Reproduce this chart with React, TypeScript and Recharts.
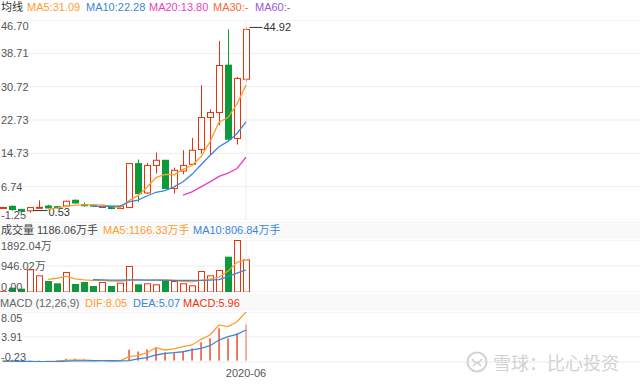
import React from "react";
import {
  ComposedChart,
  Bar,
  Line,
  XAxis,
  YAxis,
  CartesianGrid,
  ReferenceLine,
} from "recharts";

// k-line values (28 sessions)
const openPx = [1.65, 2.04, 1.3, 0.96, 1.7, 2.11, 1.95, 2.11, 3.48, 2.4, 2.3, 1.75, 2.04, 1.5, 1.73, 12.28, 5.23, 11.8, 13.07, 6.28, 10.5, 12.1, 15.64, 23.32, 24.52, 35.87, 18.28, 32.51];
const closePx = [1.75, 1.25, 0.9, 1.73, 1.78, 1.63, 1.8, 3.24, 2.83, 2.2, 2.1, 2.0, 1.5, 2.04, 12.28, 5.08, 11.8, 13.07, 6.28, 10.67, 11.8, 15.47, 23.32, 24.52, 35.79, 18.11, 32.67, 44.43];
const highPx = [1.9, 2.2, 1.4, 1.8, 3.48, 2.4, 2.1, 3.4, 3.7, 2.9, 2.6, 2.1, 2.1, 2.1, 12.3, 13.24, 12.43, 14.92, 13.07, 11.32, 15.47, 18.42, 31.07, 25.3, 41.7, 44.43, 33.06, 44.92];
const lowPx = [1.5, 1.0, 0.7, 0.53, 1.6, 1.3, 1.6, 2.0, 2.7, 2.0, 2.0, 1.7, 1.3, 1.4, 1.7, 3.07, 5.0, 9.88, 6.28, 5.08, 9.7, 12.1, 14.68, 14.27, 21.47, 17.7, 16.84, 31.86];

const ma5 = [null, null, null, null, null, 1.5, 1.6, 2.0, 2.3, 2.4, 2.4, 2.4, 2.0, 1.7, 3.4, 4.6, 6.6, 8.9, 9.7, 9.6, 10.9, 11.8, 13.9, 17.5, 22.2, 23.3, 26.6, 31.09];
const ma10 = [null, null, null, null, null, null, null, null, null, null, 2.0, 2.0, 2.05, 2.1, 3.1, 3.5, 4.5, 5.4, 5.8, 6.7, 7.9, 9.7, 12.0, 14.2, 16.3, 17.6, 19.5, 22.28];
const ma20 = [null, null, null, null, null, null, null, null, null, null, null, null, null, null, null, null, null, null, null, null, 4.7, 5.5, 6.7, 7.9, 9.2, 10.0, 11.1, 13.8];

// volume in 万手
const volume = [30, 158, 121, 826, 607, 400, 316, 728, 291, 364, 218, 364, 218, 340, 946, 279, 316, 279, 437, 400, 316, 243, 764, 607, 800, 1285, 1892.04, 1186.06];
const volMa5 = [null, null, null, null, null, 460, 500, 580, 480, 440, 420, 420, 400, 400, 420, 430, 430, 440, 450, 420, 390, 370, 420, 470, 540, 760, 1080, 1166.33];
const volMa10 = [null, null, null, null, null, null, null, null, null, null, 450, 440, 430, 430, 440, 440, 430, 430, 420, 420, 420, 420, 420, 430, 450, 560, 690, 806.84];

// MACD (12,26,9)
const dif = [-0.15, -0.2, -0.23, -0.22, -0.2, -0.15, -0.1, 0.05, 0.1, 0.08, 0.02, 0, -0.05, -0.05, 0.65, 0.81, 1.31, 2.14, 1.76, 1.93, 2.3, 2.59, 3.53, 4.24, 5.9, 5.62, 6.44, 8.05];
const dea = [-0.08, -0.1, -0.13, -0.15, -0.16, -0.16, -0.15, -0.1, -0.06, -0.03, -0.02, -0.01, -0.02, -0.03, 0.0, 0.3, 0.48, 0.93, 1.21, 1.31, 1.47, 1.76, 2.04, 2.47, 3.41, 3.96, 4.36, 5.07];
const macd = [-0.14, -0.2, -0.2, -0.14, -0.08, 0.02, 0.1, 0.3, 0.32, 0.22, 0.08, 0.02, -0.06, -0.04, 1.8, 1.5, 1.87, 2.2, 1.38, 1.38, 1.5, 2.04, 3.03, 3.69, 5.35, 3.69, 4.52, 5.96];

const priceTicks = [-1.25, 6.74, 14.73, 22.73, 30.72, 38.71, 46.7];
const volTicks = [0, 946.02, 1892.04];
const macdTicks = [-0.23, 3.91, 8.05];
const monthTicks = [27];
const monthLabels = ["2020-06"];

const RED = "#e8340e";
const GREEN = "#0e9a3a";
const ORANGE = "#ff9d2e";
const BLUE = "#3a86dc";
const MAGENTA = "#e93fc3";
const GRID = "#ececec";
const LABEL = "#555";
const FONT = "'Liberation Sans', Arial, 'Noto Sans CJK SC', sans-serif";

// one slot = 9px, first candle centred at x=3
const X_DOMAIN: [number, number] = [-1 / 3, 637 / 9];

const rows = openPx.map((open, i) => ({
  i,
  open,
  close: closePx[i],
  high: highPx[i],
  low: lowPx[i],
  range: [lowPx[i], highPx[i]],
  ma5: ma5[i],
  ma10: ma10[i],
  ma20: ma20[i],
  vol: volume[i],
  volMa5: volMa5[i],
  volMa10: volMa10[i],
  dif: dif[i],
  dea: dea[i],
  macd: macd[i],
}));

const maxIdx = highPx.indexOf(Math.max(...highPx));
const minIdx = lowPx.indexOf(Math.min(...lowPx));

const Candle = (props: any) => {
  const { x, y, width, height, payload } = props;
  const top = Math.min(y, y + height);
  const span = Math.abs(height);
  const k = span / (payload.high - payload.low);
  const yOf = (v: number) => top + (payload.high - v) * k;
  const up = payload.close >= payload.open;
  const color = up ? RED : GREEN;
  const left = Math.round(x);
  const w = Math.round(width);
  const cx = left + Math.floor(w / 2) + 0.5;
  const bTop = yOf(Math.max(payload.open, payload.close));
  const bBot = yOf(Math.min(payload.open, payload.close));
  const bh = Math.max(bBot - bTop, 1);
  return (
    <g>
      <line x1={cx} x2={cx} y1={top} y2={top + span} stroke={color} strokeWidth={1} />
      {up ? (
        <rect x={left + 0.5} y={bTop} width={w - 1} height={bh} fill="#fff" stroke={color} strokeWidth={1} />
      ) : (
        <rect x={left} y={bTop - 0.5} width={w} height={bh + 1} fill={color} />
      )}
      {payload.i === maxIdx && (
        <g>
          <line x1={cx + 3} x2={cx + 16} y1={top} y2={top} stroke="#333" strokeWidth={1} />
          <text x={cx + 17} y={top} fill="#333" fontSize={11} fontFamily={FONT} dominantBaseline="central">
            {payload.high.toFixed(2)}
          </text>
        </g>
      )}
      {payload.i === minIdx && (
        <g>
          <line x1={cx + 3} x2={cx + 17} y1={top + span - 2} y2={top + span - 2} stroke="#333" strokeWidth={1} />
          <text x={cx + 18} y={top + span - 1} fill="#333" fontSize={11} fontFamily={FONT} dominantBaseline="central">
            {payload.low.toFixed(2)}
          </text>
        </g>
      )}
    </g>
  );
};

const VolBar = (props: any) => {
  const { x, y, width, height, payload } = props;
  const up = payload.close >= payload.open;
  const top = Math.min(y, y + height);
  const h = Math.abs(height);
  const left = Math.round(x);
  const w = Math.round(width);
  return up ? (
    <rect x={left + 0.5} y={top + 0.5} width={w - 1} height={Math.max(h - 0.5, 0.5)} fill="#fff" stroke={RED} strokeWidth={1} />
  ) : (
    <rect x={left} y={top} width={w} height={h} fill={GREEN} />
  );
};

const MacdBar = (props: any) => {
  const { x, y, width, height, payload } = props;
  const top = Math.min(y, y + height);
  const h = Math.abs(height);
  const cx = Math.round(x + width / 2);
  return <rect x={cx - 0.6} y={top} width={1.3} height={h} fill={payload.macd >= 0 ? RED : GREEN} />;
};

const makeTick = (ticks: number[], fmt: (v: number) => string) => (props: any) => {
  const { y, payload } = props;
  const v = payload.value;
  let dy = 0;
  if (v === ticks[ticks.length - 1]) dy = 5.5;
  if (v === ticks[0]) dy = -5.5;
  return (
    <text x={1} y={y + dy} fill={LABEL} fontSize={11} fontFamily={FONT} textAnchor="start" dominantBaseline="central">
      {fmt(v)}
    </text>
  );
};

const PriceTick = makeTick(priceTicks, (v) => v.toFixed(2));
const VolTick = makeTick(volTicks, (v) => (v === 0 ? "0.00" : v.toFixed(2) + "万"));
const MacdTick = makeTick(macdTicks, (v) => v.toFixed(2));

const MonthTick = (props: any) => {
  const { x, y, payload } = props;
  const idx = monthTicks.indexOf(payload.value);
  return (
    <text x={x} y={y + 3} fill={LABEL} fontSize={11} fontFamily={FONT} textAnchor="middle" dominantBaseline="central">
      {monthLabels[idx]}
    </text>
  );
};

const head = (left: number, color: string): React.CSSProperties => ({
  position: "absolute",
  left,
  top: 0,
  color,
  whiteSpace: "nowrap",
});

export default function App() {
  return (
    <div
      style={{
        position: "absolute",
        left: 0,
        top: 0,
        width: 640,
        height: 384,
        background: "#fff",
        overflow: "hidden",
        fontFamily: FONT,
        fontSize: 11,
        lineHeight: "14px",
      }}
    >
      {/* legend rows */}
      <div style={{ position: "absolute", left: 0, top: 0, width: 640, height: 16 }}>
        <span style={head(1, "#333")}>均线</span>
        <span style={head(27, ORANGE)}>MA5:31.09</span>
        <span style={head(86, BLUE)}>MA10:22.28</span>
        <span style={head(149, MAGENTA)}>MA20:13.80</span>
        <span style={head(213, "#f2693a")}>MA30:-</span>
        <span style={head(255, "#9b57d3")}>MA60:-</span>
      </div>
      <div style={{ position: "absolute", left: 0, top: 221, width: 640, height: 18, background: "#f9f9f9" }}>
        <div style={{ position: "absolute", left: 0, top: 2, width: 640 }}>
          <span style={head(1, "#444")}>成交量 1186.06万手</span>
          <span style={head(103, ORANGE)}>MA5:1166.33万手</span>
          <span style={head(193, BLUE)}>MA10:806.84万手</span>
        </div>
      </div>
      <div style={{ position: "absolute", left: 0, top: 294, width: 640, height: 17, background: "#f9f9f9" }}>
        <div style={{ position: "absolute", left: 0, top: 2, width: 640 }}>
          <span style={head(0, "#666")}>MACD (12,26,9)</span>
          <span style={head(85, ORANGE)}>DIF:8.05</span>
          <span style={head(133, BLUE)}>DEA:5.07</span>
          <span style={head(183, RED)}>MACD:5.96</span>
        </div>
      </div>

      {/* price panel */}
      <div style={{ position: "absolute", left: 0, top: 20 }}>
        <ComposedChart width={640} height={200} data={rows} margin={{ top: 0, right: 0, bottom: 0, left: 0 }}>
          <CartesianGrid horizontal vertical={false} stroke={GRID} />
          <XAxis dataKey="i" type="number" domain={X_DOMAIN} allowDataOverflow hide />
          <YAxis
            type="number"
            domain={[priceTicks[0], priceTicks[priceTicks.length - 1]]}
            ticks={priceTicks}
            interval={0}
            allowDataOverflow
            width={1}
            mirror
            axisLine={false}
            tickLine={false}
            tick={PriceTick}
          />
          <ReferenceLine x={27} stroke={GRID} />
          <Bar dataKey="range" barSize={7} shape={<Candle />} isAnimationActive={false} />
          <Line dataKey="ma5" stroke={ORANGE} strokeWidth={1.3} dot={false} activeDot={false} isAnimationActive={false} />
          <Line dataKey="ma10" stroke={BLUE} strokeWidth={1.3} dot={false} activeDot={false} isAnimationActive={false} />
          <Line dataKey="ma20" stroke={MAGENTA} strokeWidth={1.3} dot={false} activeDot={false} isAnimationActive={false} />
        </ComposedChart>
      </div>

      {/* volume panel */}
      <div style={{ position: "absolute", left: 0, top: 240 }}>
        <ComposedChart width={640} height={52} data={rows} margin={{ top: 0, right: 0, bottom: 0, left: 0 }}>
          <CartesianGrid horizontal vertical={false} stroke={GRID} />
          <XAxis dataKey="i" type="number" domain={X_DOMAIN} allowDataOverflow hide />
          <YAxis
            type="number"
            domain={[0, volTicks[volTicks.length - 1]]}
            ticks={volTicks}
            interval={0}
            allowDataOverflow
            width={1}
            mirror
            axisLine={false}
            tickLine={false}
            tick={VolTick}
          />
          <ReferenceLine x={27} stroke={GRID} />
          <Bar dataKey="vol" barSize={7} shape={<VolBar />} isAnimationActive={false} />
          <Line dataKey="volMa5" stroke={ORANGE} strokeWidth={1.3} dot={false} activeDot={false} isAnimationActive={false} />
          <Line dataKey="volMa10" stroke={BLUE} strokeWidth={1.3} dot={false} activeDot={false} isAnimationActive={false} />
        </ComposedChart>
      </div>

      {/* MACD panel */}
      <div style={{ position: "absolute", left: 0, top: 312 }}>
        <ComposedChart width={640} height={72} data={rows} margin={{ top: 0, right: 0, bottom: 0, left: 0 }}>
          <CartesianGrid horizontal vertical={false} stroke={GRID} />
          <XAxis
            dataKey="i"
            type="number"
            domain={X_DOMAIN}
            allowDataOverflow
            ticks={monthTicks}
            interval={0}
            height={22}
            axisLine={false}
            tickLine={false}
            tick={MonthTick}
          />
          <YAxis
            type="number"
            domain={[macdTicks[0], macdTicks[macdTicks.length - 1]]}
            ticks={macdTicks}
            interval={0}
            allowDataOverflow
            width={1}
            mirror
            axisLine={false}
            tickLine={false}
            tick={MacdTick}
          />
          <ReferenceLine x={27} stroke={GRID} />
          <Bar dataKey="macd" barSize={7} shape={<MacdBar />} isAnimationActive={false} />
          <Line dataKey="dif" stroke={ORANGE} strokeWidth={1.3} dot={false} activeDot={false} isAnimationActive={false} />
          <Line dataKey="dea" stroke={BLUE} strokeWidth={1.3} dot={false} activeDot={false} isAnimationActive={false} />
        </ComposedChart>
      </div>

      {/* watermark */}
      <div
        style={{
          position: "absolute",
          left: 466,
          top: 351,
          display: "flex",
          alignItems: "center",
          color: "#d2d2d2",
          fontSize: 18,
          lineHeight: "22px",
          fontFamily: "'Noto Sans CJK SC', sans-serif",
        }}
      >
        <svg width={22} height={22} style={{ marginRight: 5 }}>
          <circle cx={11} cy={11} r={9.5} fill="none" stroke="#d2d2d2" strokeWidth={2} />
          <path d="M6 8 Q11 15 16 8 M7 15 Q11 9 15 15" fill="none" stroke="#d2d2d2" strokeWidth={1.6} />
        </svg>
        <span>雪球：比心投资</span>
      </div>
    </div>
  );
}
